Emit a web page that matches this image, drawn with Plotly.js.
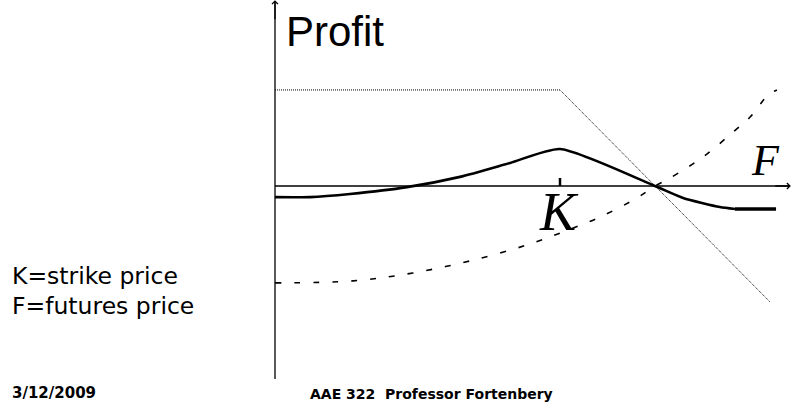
<!DOCTYPE html>
<html>
<head>
<meta charset="utf-8">
<script src="https://cdn.plot.ly/plotly-3.0.1.min.js"></script>
<style>html,body{margin:0;padding:0;background:#fff;}#chart{width:791px;height:402px;}</style>
</head>
<body>
<div id="chart"></div>
<script>
// Futures price (K = 100) and profit values
const strikeK = 100;

const putPrice  = [0, 100, 173.7];
const putProfit = [33.7, 33.7, -40.7];

const futPrice  = [0, 27.4, 48.4, 68.4, 88.4, 101.1, 114.0, 127.0, 133.3, 138.6, 150.2, 160.7, 166.7, 173.0, 176.1];
const futProfit = [-34.0, -33.3, -30.5, -26.3, -20.7, -16.1, -10.9, -4.2, 0, 2.8, 10.2, 18.9, 24.2, 31.9, 33.7];

const netPrice  = [0, 12.3, 26.3, 46.3, 64.9, 82.5, 100, 133.3, 143.2, 156.1, 161.4];
const netProfit = [-3.9, -3.9, -2.8, -0.4, 3.2, 8.1, 13.0, 0, -4.2, -7.4, -8.1];

const endPrice  = [161.4, 175.8];
const endProfit = [-8.1, -8.1];

const labels = {
  yTitle: "Profit",
  k: "K",
  f: "F",
  legend1: "K=strike price",
  legend2: "F=futures price",
  date: "3/12/2009",
  footer: "AAE 322\u00a0 Professor Fortenbery"
};

const traces = [
  {x: putPrice, y: putProfit, mode: 'lines', line: {color: '#000', width: 1, dash: '1px,1px'}, hoverinfo: 'skip'},
  {x: futPrice, y: futProfit, mode: 'lines', line: {color: '#000', width: 1.6, dash: '6px,13px', shape: 'spline'}, hoverinfo: 'skip'},
  {x: netPrice, y: netProfit, mode: 'lines', line: {color: '#000', width: 2.6, shape: 'spline', smoothing: 0.6}, hoverinfo: 'skip'},
  {x: endPrice, y: endProfit, mode: 'lines', line: {color: '#000', width: 3.5}, hoverinfo: 'skip'}
];

const W = 791, H = 402;
const px = v => v / W;
const py = v => 1 - v / H;

const layout = {
  width: W, height: H,
  margin: {l: 0, r: 0, t: 0, b: 0},
  paper_bgcolor: '#fff', plot_bgcolor: '#fff',
  showlegend: false,
  xaxis: {range: [-96.49, 181.05], visible: false, fixedrange: true},
  yaxis: {range: [-75.79, 65.26], visible: false, fixedrange: true},
  shapes: [
    {type: 'line', xref: 'x', yref: 'y', x0: 0, x1: 0, y0: -67.7, y1: 64.5, line: {color: '#000', width: 1.3}},
    {type: 'line', xref: 'x', yref: 'y', x0: 0, x1: 180.5, y0: 0, y1: 0, line: {color: '#000', width: 1.3}},
    {type: 'line', xref: 'x', yref: 'y', x0: strikeK, x1: strikeK, y0: 0, y1: 2.8, line: {color: '#000', width: 2.5}}
  ],
  annotations: [
    {xref: 'x', yref: 'y', x: 0, y: 65.2, ax: 0, ay: 58, axref: 'x', ayref: 'y', showarrow: true, arrowhead: 4, arrowsize: 0.9, arrowwidth: 1.3, arrowcolor: '#000', text: ''},
    {xref: 'x', yref: 'y', x: 181, y: 0, ax: 175, ay: 0, axref: 'x', ayref: 'y', showarrow: true, arrowhead: 4, arrowsize: 0.9, arrowwidth: 1.3, arrowcolor: '#000', text: ''},
    {xref: 'paper', yref: 'paper', x: px(284), y: py(32), xanchor: 'left', yanchor: 'middle', showarrow: false, text: labels.yTitle, font: {family: 'Liberation Sans, Arial, sans-serif', size: 42, color: '#000'}},
    {xref: 'paper', yref: 'paper', x: px(559), y: py(212), xanchor: 'center', yanchor: 'middle', showarrow: false, text: '<i>' + labels.k + '</i>', font: {family: 'Liberation Serif, Times New Roman, serif', size: 54, color: '#000'}},
    {xref: 'paper', yref: 'paper', x: px(765), y: py(160), xanchor: 'center', yanchor: 'middle', showarrow: false, text: '<i>' + labels.f + '</i>', font: {family: 'Liberation Serif, Times New Roman, serif', size: 44, color: '#000'}},
    {xref: 'paper', yref: 'paper', x: px(10), y: py(276), xanchor: 'left', yanchor: 'middle', showarrow: false, text: labels.legend1, font: {family: 'DejaVu Sans, Verdana, sans-serif', size: 23.5, color: '#000'}},
    {xref: 'paper', yref: 'paper', x: px(10), y: py(306), xanchor: 'left', yanchor: 'middle', showarrow: false, text: labels.legend2, font: {family: 'DejaVu Sans, Verdana, sans-serif', size: 23.5, color: '#000'}},
    {xref: 'paper', yref: 'paper', x: px(10), y: py(393), xanchor: 'left', yanchor: 'middle', showarrow: false, text: '<b>' + labels.date + '</b>', font: {family: 'DejaVu Sans, Verdana, sans-serif', size: 15, color: '#000'}},
    {xref: 'paper', yref: 'paper', x: px(308), y: py(394), xanchor: 'left', yanchor: 'middle', showarrow: false, text: '<b>' + labels.footer + '</b>', font: {family: 'DejaVu Sans, Verdana, sans-serif', size: 14, color: '#000'}}
  ]
};

Plotly.newPlot('chart', traces, layout, {displayModeBar: false, staticPlot: true});
</script>
</body>
</html>
